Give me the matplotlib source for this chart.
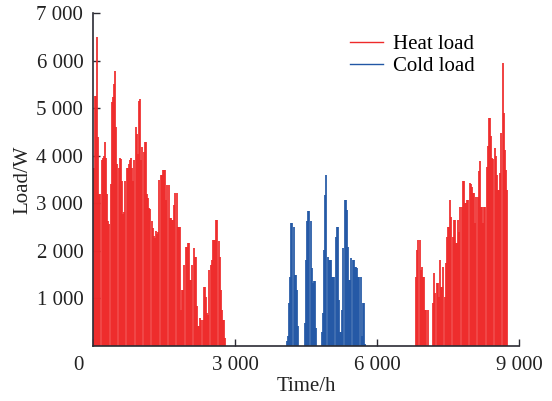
import numpy as np
import matplotlib.pyplot as plt
import matplotlib.transforms as mtransforms
from matplotlib.lines import Line2D
from matplotlib.ticker import FuncFormatter

plt.rcParams['font.family'] = ['Liberation Serif', 'DejaVu Serif']
plt.rcParams['font.size'] = 15

# daily peak load [W], one value per day
heat_start1 = 0
heat_peak1 = [3750, 5260, 5260, 6490, 4390, 3190, 3190, 3900, 3960, 4000,
              4280, 3960, 3190, 2630, 2560, 3400, 5120, 5230, 5510, 5790,
              4600, 3820, 3750, 3960, 3930, 3470, 2770, 2810, 3470, 3750,
              3750, 3820, 3900, 3960, 3750, 3470, 3900, 4600, 4460, 4040,
              5160, 5190, 3900, 4180, 4070, 4280, 4280, 3190, 3120, 2910,
              2880, 2630, 2490, 2320, 2280, 2420, 2350, 2390, 3490, 3600,
              3600, 3690, 3690, 3690, 3070, 3390, 3390, 2690, 2690, 2650,
              2650, 2970, 3220, 3220, 2510, 2510, 2510, 760, 1180, 1180,
              1700, 2090, 2090, 2160, 2160, 1390, 1390, 1700, 2060, 1880,
              1880, 830, 410, 410, 590, 550, 550, 1250, 1250, 1040,
              690, 650, 1600, 1700, 1810, 2230, 2230, 2230, 2650, 2650,
              2200, 1880, 1180, 760, 550, 550, 170]

cold_start = 170
cold_peak = [100, 200, 900, 1460, 2580, 2580, 2510, 1500, 1500, 1180,
             410, 0, 0, 0, 0, 0, 480, 1810, 2620, 2830,
             2830, 2620, 1640, 1330, 1360, 1360, 380, 0, 0, 0,
             0, 300, 690, 2020, 3180, 3600, 1880, 1810, 1810, 1810,
             1460, 1460, 1460, 2300, 2510, 2510, 970, 300, 300, 760,
             2060, 3070, 3070, 2860, 2090, 1390, 1390, 1850, 1810, 1810,
             1670, 1670, 1640, 1460, 1460, 1460, 200, 900, 900, 50]

heat_start2 = 284
heat_peak2 = [1460, 2020, 2230, 2230, 1600, 1670, 1460, 1460, 760, 760,
              760, 0, 0, 0, 0, 900, 1530, 1110, 1320, 1320,
              1040, 1810, 1250, 1250, 1670, 1040, 1740, 2300, 2510, 2510,
              3070, 2720, 2300, 2650, 2650, 2160, 2160, 2650, 2400, 2930,
              2930, 3460, 3460, 3000, 3000, 3070, 3070, 3420, 3400, 3350,
              3220, 3220, 2580, 3140, 3140, 3670, 3880, 2930, 2930, 2580,
              2930, 2930, 3770, 4200, 4790, 4790, 4410, 3960, 3930, 4160,
              3990, 3600, 3280, 3280, 3640, 4480, 5950, 4900, 4130, 3700,
              3280]

x_ticks = [0, 3000, 6000, 9000]
y_ticks = [1000, 2000, 3000, 4000, 5000, 6000, 7000]

red = '#ee2a2a'
blue = '#2257a5'
dark = '#2b2b33'


def day_hours(start, peaks):
    return (start + np.arange(len(peaks))) * 24 + 12


fig = plt.figure(figsize=(5.52, 4.01), dpi=100)
ax = fig.add_axes([0.1685, 0.1372, 0.7717, 0.8304])

ax.vlines(day_hours(heat_start1, heat_peak1), 0, heat_peak1, colors=red, lw=1.25)
ax.vlines(day_hours(heat_start2, heat_peak2), 0, heat_peak2, colors=red, lw=1.25)
ax.vlines(day_hours(cold_start, cold_peak), 0, cold_peak, colors=blue, lw=1.25)

ax.set_xlim(0, 9000)
ax.set_ylim(0, 7000)

fmt = FuncFormatter(lambda v, p: f'{v:,.0f}'.replace(',', ' '))
ax.set_xticks(x_ticks)
ax.set_yticks(y_ticks)
ax.xaxis.set_major_formatter(fmt)
ax.yaxis.set_major_formatter(fmt)
ax.tick_params(direction='in', length=5, width=1, pad=7, colors=dark, labelcolor='#222222')

# the single "0" sits in the corner, left of the origin
lab0 = ax.get_xticklabels()[0]
lab0.set_transform(lab0.get_transform() +
                   mtransforms.ScaledTranslation(-0.15, 0, fig.dpi_scale_trans))

for s in ['top', 'right']:
    ax.spines[s].set_visible(False)
for s in ['left', 'bottom']:
    ax.spines[s].set_linewidth(1.2)
    ax.spines[s].set_color(dark)

ax.set_xlabel('Time/h', labelpad=2, color='#222222')
ax.set_ylabel('Load/W', labelpad=3, color='#222222')

handles = [Line2D([], [], color=red, lw=1.0), Line2D([], [], color=blue, lw=1.0)]
ax.legend(handles, ['Heat load', 'Cold load'], loc='upper left',
          bbox_to_anchor=(0.603, 0.935), frameon=False, borderpad=0,
          borderaxespad=0, handlelength=1.6, handletextpad=0.45,
          labelspacing=0.1)

fig.savefig('out.png', dpi=100)
